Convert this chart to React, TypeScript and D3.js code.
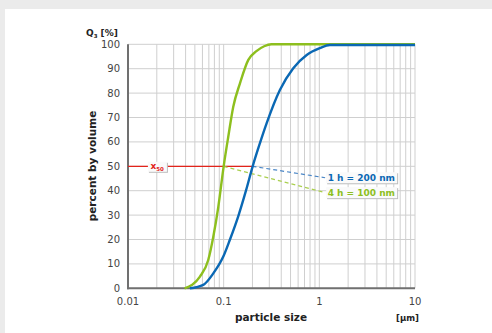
import * as d3 from "d3"

// 4 h milling: particle size [µm] -> Q3 [%]
const sizes4h = [0.039, 0.0565, 0.069, 0.0779, 0.0879, 0.1, 0.1117, 0.126, 0.148, 0.181, 0.22, 0.265, 0.316, 0.4, 1, 10]
const q4h = [0, 4.8, 11.6, 21.1, 33.4, 50, 62.1, 74.4, 84, 93.6, 97.2, 99.2, 100, 100, 100, 100]

// 1 h milling
const sizes1h = [0.0444, 0.0612, 0.0779, 0.0991, 0.1164, 0.142, 0.171, 0.201, 0.239, 0.281, 0.387, 0.534, 0.738, 1.01, 1.29, 10]
const q1h = [0, 1.4, 6.1, 13, 20, 29.5, 40, 50, 59.4, 67.6, 81.3, 90.2, 95.6, 98.4, 99.7, 99.7]

const yTicks = [0, 10, 20, 30, 40, 50, 60, 70, 80, 90, 100]
const xTicks = [0.01, 0.1, 1, 10]
const xTickLabels = ["0.01", "0.1", "1", "10"]

const annotations = [
  { text: "1 h = 200 nm", color: "#0a68b4", dash: "#4a86c6", x50: 0.2, at: [1.15, 45.3] },
  { text: "4 h = 100 nm", color: "#8dbf1e", dash: "#aacf4f", x50: 0.1, at: [1.15, 39.2] },
]

const W = 492
const H = 333
const font = "'DejaVu Sans', Verdana, sans-serif"

export default function App() {
  const x = d3.scaleLog().domain([0.01, 10]).range([128, 415])
  const y = d3.scaleLinear().domain([0, 100]).range([288.3, 44.3])

  const minor: number[] = []
  for (let e = -2; e <= 0; e++) for (let k = 2; k <= 9; k++) minor.push(k * Math.pow(10, e))
  const vGrid = [...xTicks, ...minor]

  const line = d3
    .line<[number, number]>()
    .x((d) => x(d[0]))
    .y((d) => y(d[1]))
    .curve(d3.curveMonotoneX)

  const green = sizes4h.map((s, i) => [s, q4h[i]] as [number, number])
  const blue = sizes1h.map((s, i) => [s, q1h[i]] as [number, number])

  const x50pos = 0.0203

  return (
    <svg width={W} height={H} style={{ position: "absolute", left: 0, top: 0 }} fontFamily={font}>
      <rect width={W} height={H} fill="#ebebeb" />
      <rect x={5} y={9} width={W - 5} height={H - 9} fill="#fff" />

      {/* grid */}
      {vGrid.map((v) => (
        <line key={"v" + v} x1={x(v)} x2={x(v)} y1={y(0)} y2={y(100)} stroke="#cfcfcf" strokeWidth={1} />
      ))}
      {yTicks.map((t) => (
        <line key={"h" + t} x1={x(0.01)} x2={x(10)} y1={y(t)} y2={y(t)} stroke="#cfcfcf" strokeWidth={1} />
      ))}

      {/* axes */}
      <line x1={x(0.01)} x2={x(0.01)} y1={y(0) + 1} y2={y(100)} stroke="#707070" strokeWidth={2} />
      <line x1={x(0.01) - 1} x2={x(10)} y1={y(0)} y2={y(0)} stroke="#707070" strokeWidth={2} />

      {yTicks.map((t) => (
        <text key={"yt" + t} x={120} y={y(t) + 3.5} textAnchor="end" fontSize={10} fill="#444">
          {t}
        </text>
      ))}
      {xTicks.map((t, i) => (
        <text key={"xt" + t} x={x(t)} y={305} textAnchor="middle" fontSize={10} fill="#444">
          {xTickLabels[i]}
        </text>
      ))}

      {/* x50 line */}
      <line x1={x(0.01)} x2={x(0.2)} y1={y(50)} y2={y(50)} stroke="#e2231a" strokeWidth={1.3} />

      {/* dashed leaders */}
      {annotations.map((a) => (
        <line
          key={"d" + a.text}
          x1={x(a.x50)}
          y1={y(50)}
          x2={x(a.at[0])}
          y2={y(a.at[1])}
          stroke={a.dash}
          strokeWidth={1.2}
          strokeDasharray="4,3"
        />
      ))}

      {/* curves */}
      <path d={line(green)!} fill="none" stroke="#8dbf1e" strokeWidth={2.4} />
      <path d={line(blue)!} fill="none" stroke="#0a68b4" strokeWidth={2.4} />

      {/* x50 label */}
      <g transform={`translate(${x(x50pos)},${y(50)})`}>
        <rect x={-8.5} y={-3.5} width={19} height={10} fill="#bdbdbd" />
        <rect x={-9.5} y={-4.5} width={19} height={10} fill="#fafafa" />
        <text x={-7} y={2.5} fontSize={9} fontWeight="bold" fill="#e2231a">
          x
          <tspan fontSize={5.5} dy={2}>
            50
          </tspan>
        </text>
      </g>

      {/* annotation labels */}
      {annotations.map((a) => (
        <g key={"l" + a.text} transform={`translate(${x(a.at[0])},${y(a.at[1])})`}>
          <rect x={2} y={-4.5} width={71} height={11} fill="#bdbdbd" />
          <rect x={1} y={-5.5} width={71} height={11} fill="#fafafa" />
          <text x={2.5} y={3.3} fontSize={9} fontWeight="bold" fill={a.color}>
            {a.text}
          </text>
        </g>
      ))}

      {/* axis titles */}
      <text x={86} y={36} fontSize={9} fontWeight="bold" fill="#222">
        Q<tspan fontSize={5.5} dy={2}>3</tspan>
        <tspan dy={-2}> [%]</tspan>
      </text>
      <text
        transform={`translate(96,166) rotate(-90)`}
        textAnchor="middle"
        fontSize={10.5}
        fontWeight="bold"
        fill="#222"
      >
        percent by volume
      </text>
      <text x={271} y={321} textAnchor="middle" fontSize={10.5} fontWeight="bold" fill="#222">
        particle size
      </text>
      <text x={407.5} y={321} textAnchor="middle" fontSize={8.5} fontWeight="bold" fill="#222">
        [µm]
      </text>
    </svg>
  )
}
